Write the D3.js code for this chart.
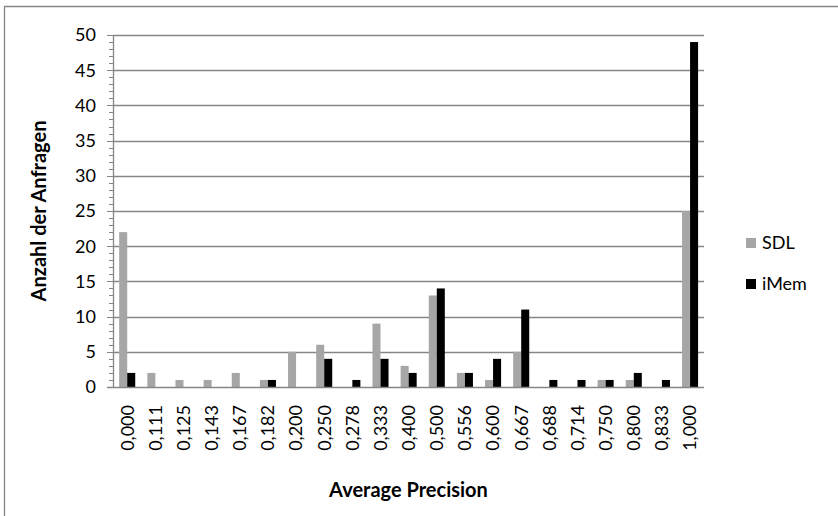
<!DOCTYPE html>
<html>
<head>
<meta charset="utf-8">
<script src="https://cdn.jsdelivr.net/npm/d3@7"></script>
<style>
  body { margin: 0; background: #fff; }
  text { font-family: Lato, "Open Sans", sans-serif; }
</style>
</head>
<body>
<div id="chart"></div>
<script>
const categories = ["0,000", "0,111", "0,125", "0,143", "0,167", "0,182", "0,200", "0,250", "0,278", "0,333",
  "0,400", "0,500", "0,556", "0,600", "0,667", "0,688", "0,714", "0,750", "0,800", "0,833", "1,000"];
const sdlValues = [22, 2, 1, 1, 2, 1, 5, 6, 0, 9, 3, 13, 2, 1, 5, 0, 0, 1, 1, 0, 25];
const imemValues = [2, 0, 0, 0, 0, 1, 0, 4, 1, 4, 2, 14, 2, 4, 11, 1, 1, 1, 2, 1, 49];
const seriesNames = ["SDL", "iMem"];
const yTicks = [0, 5, 10, 15, 20, 25, 30, 35, 40, 45, 50];

const width = 838, height = 516;
const margin = { top: 35, right: 134, bottom: 129, left: 113 };
const innerWidth = width - margin.left - margin.right;
const innerHeight = height - margin.top - margin.bottom;
const colors = { SDL: "#a6a6a6", iMem: "#000000" };
const axisGray = "#868686";

const svg = d3.select("#chart")
  .append("svg")
  .attr("width", width)
  .attr("height", height);

// chart area border: only its top and left edges are inside the picture
svg.append("path")
  .attr("d", `M4.5,${height} V6.5 H${width}`)
  .attr("fill", "none")
  .attr("stroke", axisGray)
  .attr("stroke-width", 1.3);

const g = svg.append("g")
  .attr("transform", `translate(${margin.left},${margin.top})`);

const xScale = d3.scaleBand()
  .domain(categories)
  .range([0, innerWidth]);

const catW = xScale.bandwidth();
const innerScale = d3.scaleBand()
  .domain(seriesNames)
  .range([catW * 0.22, catW * 0.79]);

const yScale = d3.scaleLinear()
  .domain([0, 50])
  .range([innerHeight, 0]);

// gridlines
g.append("g")
  .selectAll("line")
  .data(yTicks.filter(t => t > 0))
  .join("line")
  .attr("x1", 0).attr("x2", innerWidth)
  .attr("y1", d => Math.round(yScale(d)) + 0.5)
  .attr("y2", d => Math.round(yScale(d)) + 0.5)
  .attr("stroke", axisGray)
  .attr("stroke-width", 1.3);

// bars
const rows = categories.map((c, i) => ({ cat: c, SDL: sdlValues[i], iMem: imemValues[i] }));
const groups = g.append("g")
  .selectAll("g")
  .data(rows)
  .join("g")
  .attr("transform", d => `translate(${xScale(d.cat)},0)`);

groups.selectAll("rect")
  .data(d => seriesNames.map(s => ({ key: s, value: d[s] })))
  .join("rect")
  .attr("x", d => innerScale(d.key))
  .attr("width", innerScale.bandwidth())
  .attr("y", d => yScale(d.value))
  .attr("height", d => innerHeight - yScale(d.value))
  .attr("fill", d => colors[d.key]);

// y axis, with a minor tick for every unit
const yAxis = g.append("g");
yAxis.append("line")
  .attr("x1", 0.5).attr("x2", 0.5)
  .attr("y1", 0).attr("y2", innerHeight)
  .attr("stroke", axisGray).attr("stroke-width", 1.3);
yAxis.selectAll(".minor")
  .data(d3.range(0, 51))
  .join("line")
  .attr("x1", d => d % 5 === 0 ? -6 : -4).attr("x2", 0)
  .attr("y1", d => Math.round(yScale(d)) + 0.5)
  .attr("y2", d => Math.round(yScale(d)) + 0.5)
  .attr("stroke", axisGray);
yAxis.selectAll("text")
  .data(yTicks)
  .join("text")
  .attr("x", -17)
  .attr("y", d => yScale(d))
  .attr("dy", "0.36em")
  .attr("text-anchor", "end")
  .style("font-size", "18px")
  .attr("fill", "#000")
  .text(d => d);

// x axis
const xAxis = g.append("g").attr("transform", `translate(0,${innerHeight})`);
xAxis.append("line")
  .attr("x1", -6).attr("x2", innerWidth)
  .attr("y1", 0.5).attr("y2", 0.5)
  .attr("stroke", axisGray).attr("stroke-width", 1.3);
xAxis.selectAll("text")
  .data(categories)
  .join("text")
  .attr("transform", d => `translate(${xScale(d) + catW / 2},18) rotate(-90)`)
  .attr("dy", "0.36em")
  .attr("text-anchor", "end")
  .style("font-size", "18px")
  .attr("fill", "#000")
  .text(d => d);

// axis titles
svg.append("text")
  .attr("x", margin.left + innerWidth / 2)
  .attr("y", 497)
  .attr("text-anchor", "middle")
  .style("font-size", "20px")
  .style("font-weight", 700)
  .text("Average Precision");

svg.append("text")
  .attr("transform", `translate(46,${margin.top + innerHeight / 2}) rotate(-90)`)
  .attr("text-anchor", "middle")
  .style("font-size", "20px")
  .style("font-weight", 700)
  .text("Anzahl der Anfragen");

// legend
const legend = svg.append("g")
  .selectAll("g")
  .data(seriesNames)
  .join("g")
  .attr("transform", (d, i) => `translate(746,${238 + i * 41})`);
legend.append("rect")
  .attr("width", 10).attr("height", 10)
  .attr("fill", d => colors[d]);
legend.append("text")
  .attr("x", 16).attr("y", 5)
  .attr("dy", "0.36em")
  .style("font-size", "18px")
  .text(d => d);
</script>
</body>
</html>
